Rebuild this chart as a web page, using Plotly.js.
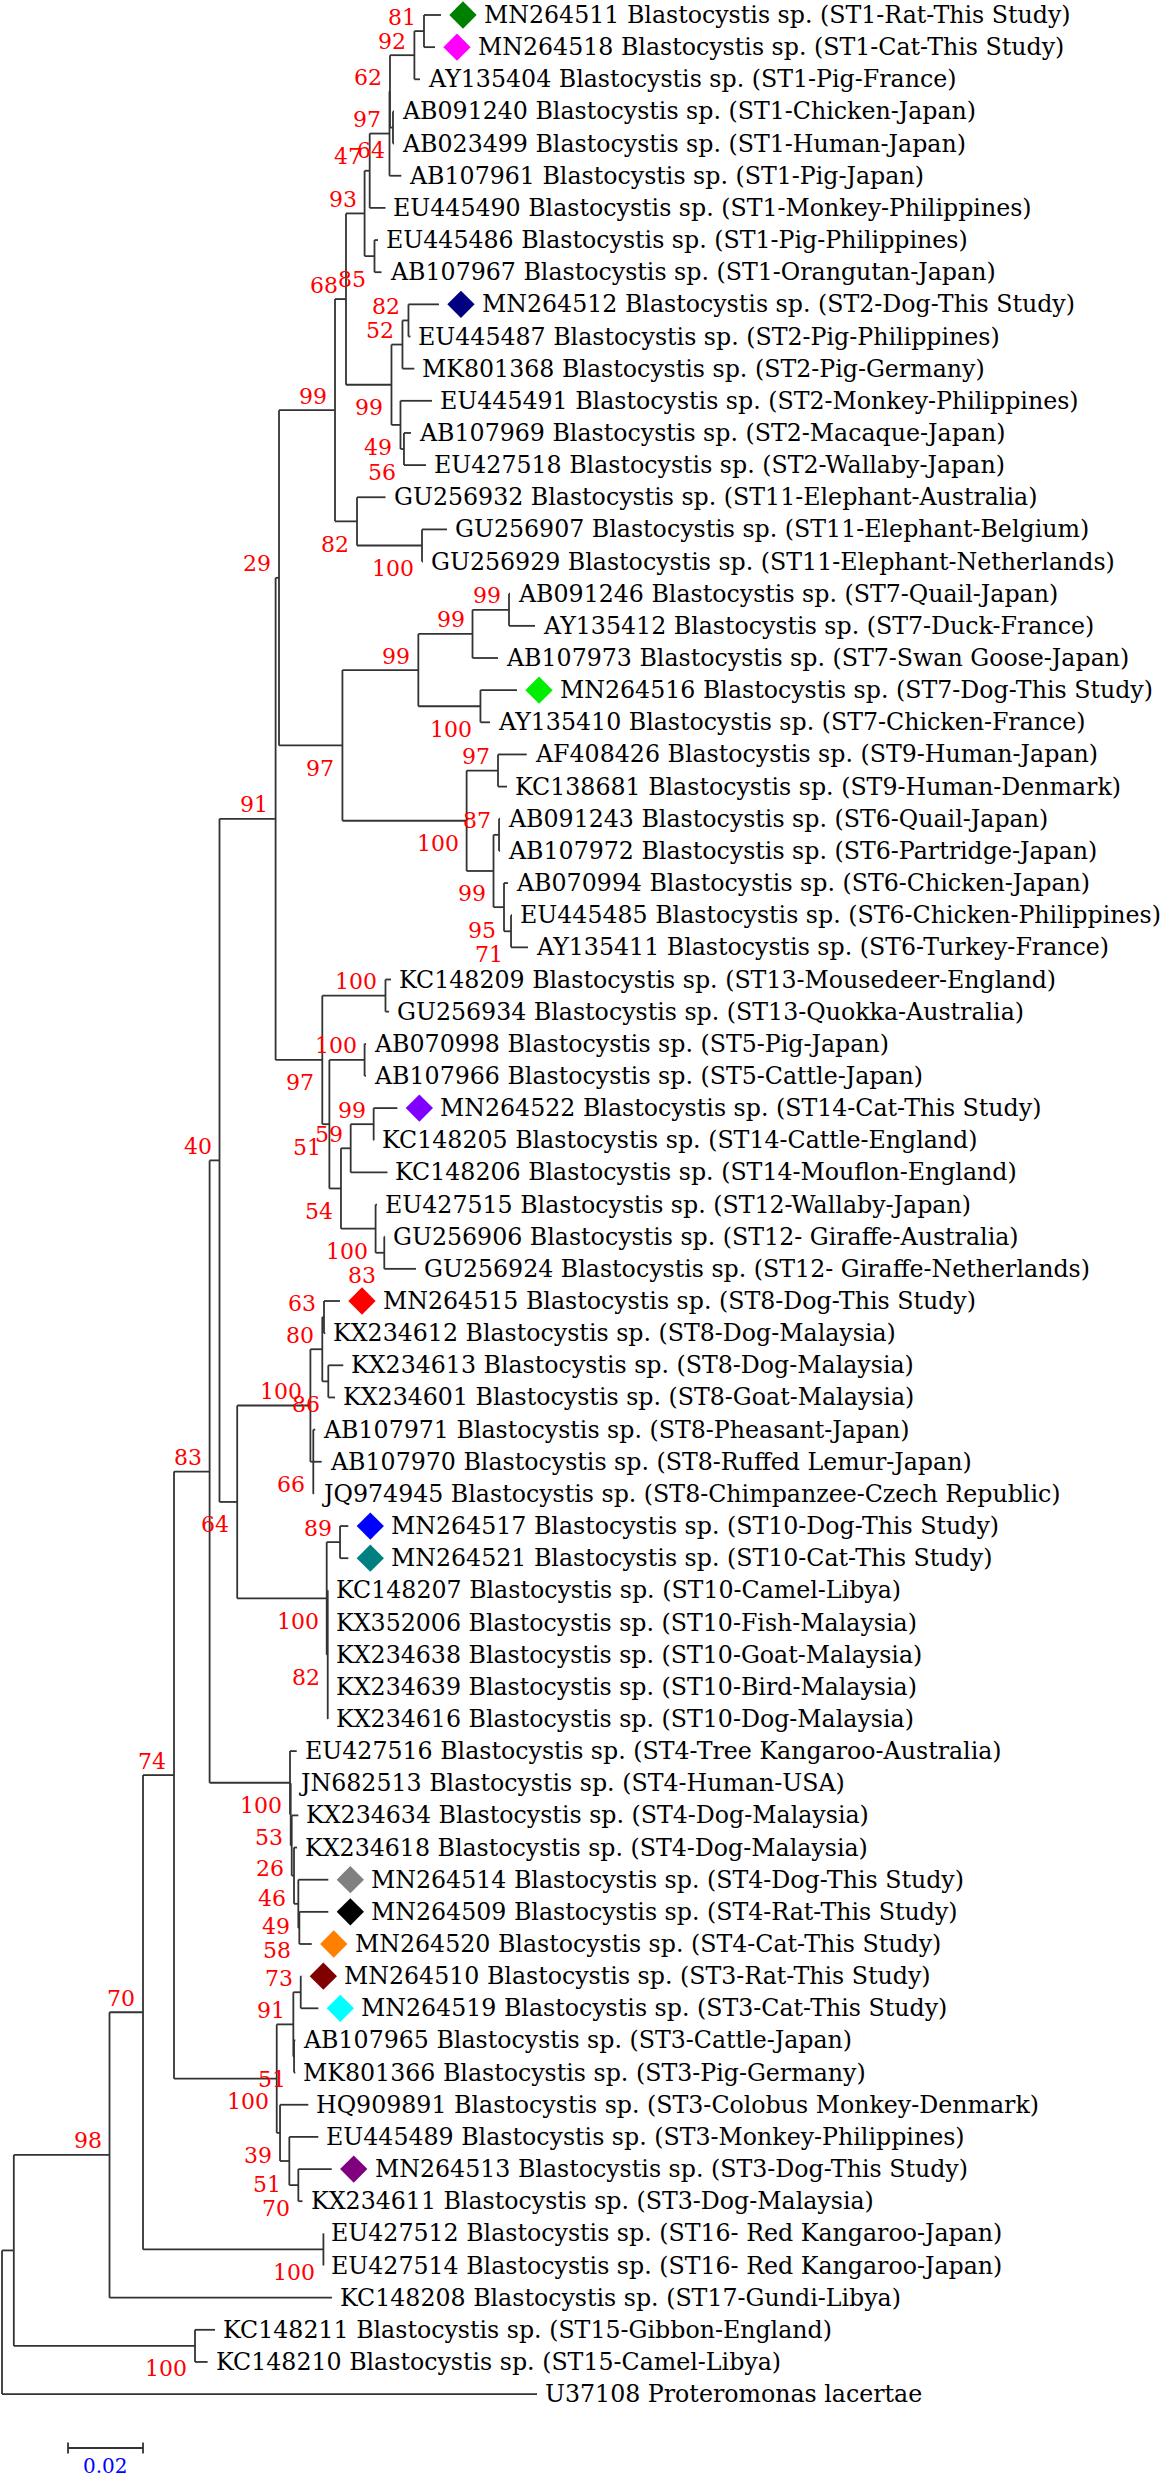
<!DOCTYPE html>
<html>
<head>
<meta charset="utf-8">
<script src="https://cdn.plot.ly/plotly-3.0.1.min.js"></script>
<style>
html,body{margin:0;padding:0;background:#ffffff;}
#chart{width:1165px;height:2480px;}
</style>
</head>
<body>
<div id="chart"></div>
<script>
// ---------------- DATA ----------------
// Tree topology, branch lengths (substitutions/site) and bootstrap support (Newick), per clade
const cladeST1 = "((((((MN264511:0.00453,MN264518:0.00293)81:0.00256,AY135404:0.00149)92:0.00651,(AB091240:0.00027,AB023499:0.00027)64:0.0008)62:0.00013,AB107961:0.00315)97:0.00528,EU445490:0.00421)47:0.00136,(EU445486:0.00093,AB107967:0.00187)85:0.00264)93";
const cladeST2 = "(((MN264512:0.00813,EU445487:0.00053)82:0.0016,MK801368:0.00317)52:0.00293,(EU445491:0.0084,(AB107969:0.00187,EU427518:0.00587)56:0.00093)49:0.0024)99";
const cladeST11 = "(GU256932:0.0076,(GU256907:0.00667,GU256929:0.00027)100:0.01733)82";
const cladeST7 = "(((AB091246:0.00027,AY135412:0.00693)99:0.00973,AB107973:0.0068)99:0.01445,(MN264516:0.00976,AY135410:0.00256)100:0.01656)99";
const cladeST9ST6 = "((AF408426:0.00765,KC138681:0.0024)97:0.00837,((AB091243:0.00027,AB107972:0.00027)87:0.00147,(AB070994:0.00107,(EU445485:0.00027,AY135411:0.00453)71:0.00187)95:0.0028)99:0.00717)100";
const cladeST13to12 = "((KC148209:0.00147,GU256934:0.00093)100:0.01685,((AB070998:0.00037,AB107966:0.00037)100:0.00939,(((MN264522:0.00632,KC148205:0.00008)99:0.00613,KC148206:0.00981)59:0.00259,(EU427515:0.00037,(GU256906:0.00019,GU256924:0.00845)83:0.00232)100:0.00923)54:0.00309)51:0.00189)97";
const cladeST8ST10 = "((((MN264515:0.00427,KX234612:0.00035)63:0.00045,(KX234613:0.004,KX234601:0.00179)86:0.0016)80:0.00317,(AB107971:0.00053,AB107970:0.00224,JQ974945:0.00011)66:0.00077)100:0.01952,((MN264517:0.00221,MN264521:0.00221)89:0.00355,(KC148207:0.00008,KX352006:0.00008,KX234638:0.00008,KX234639:0.00008,KX234616:0.00008)82:0.00027)100:0.02387)64";
const cladeST4 = "(EU427516:0.00179,(JN682513:0.00008,(KX234634:0.00176,(KX234618:0.0008,(MN264514:0.008,(MN264509:0.00773,MN264520:0.00331)58:0.00027)49:0.00115)46:0.00061)26:0.00027)53:0.00019)100";
const cladeST3 = "(((MN264510:0.00016,MN264519:0.00469)73:0.00197,(AB107965:0.00035,MK801366:0.00035)51:0.00019)91:0.00443,(HQ909891:0.00755,(EU445489:0.00773,(MN264513:0.00891,KX234611:0.00112)70:0.0024)51:0.00248)39:0.00088)100";
const cladeST16 = "(EU427512:0,EU427514:0)100";
const cladeST15 = "(KC148211:0.00533,KC148210:0.00336)100";

const nodeI = `((${cladeST1}:0.00496,${cladeST2}:0.01213)68:0.00293,${cladeST11}:0.00587)99`;
const nodeH = `(${nodeI}:0.01493,(${cladeST7}:0.02024,${cladeST9ST6}:0.03312)97:0.01691)29`;
const nodeG = `(${nodeH}:0.00091,${cladeST13to12}:0.01245)91`;
const nodeF = `(${nodeG}:0.01496,${cladeST8ST10}:0.00472)40`;
const nodeE = `(${nodeF}:0.00264,${cladeST4}:0.02144)83`;
const nodeD = `(${nodeE}:0.00949,${cladeST3}:0.02739)74`;
const nodeC = `(${nodeD}:0.00827,${cladeST16}:0.04811)70`;
const nodeB = `(${nodeC}:0.00893,KC148208:0.05933)98`;
const nodeA = `(${nodeB}:0.02552,${cladeST15}:0.04832)`;
const newick = `(${nodeA}:0.00315,U37108:0.14267);`;

// Tip labels
const accessions = ["MN264511","MN264518","AY135404","AB091240","AB023499","AB107961","EU445490","EU445486","AB107967",
 "MN264512","EU445487","MK801368","EU445491","AB107969","EU427518","GU256932","GU256907","GU256929",
 "AB091246","AY135412","AB107973","MN264516","AY135410","AF408426","KC138681","AB091243","AB107972","AB070994","EU445485","AY135411",
 "KC148209","GU256934","AB070998","AB107966","MN264522","KC148205","KC148206","EU427515","GU256906","GU256924",
 "MN264515","KX234612","KX234613","KX234601","AB107971","AB107970","JQ974945",
 "MN264517","MN264521","KC148207","KX352006","KX234638","KX234639","KX234616",
 "EU427516","JN682513","KX234634","KX234618","MN264514","MN264509","MN264520",
 "MN264510","MN264519","AB107965","MK801366","HQ909891","EU445489","MN264513","KX234611",
 "EU427512","EU427514","KC148208","KC148211","KC148210","U37108"];
const sources = ["ST1-Rat-This Study","ST1-Cat-This Study","ST1-Pig-France","ST1-Chicken-Japan","ST1-Human-Japan","ST1-Pig-Japan","ST1-Monkey-Philippines","ST1-Pig-Philippines","ST1-Orangutan-Japan",
 "ST2-Dog-This Study","ST2-Pig-Philippines","ST2-Pig-Germany","ST2-Monkey-Philippines","ST2-Macaque-Japan","ST2-Wallaby-Japan","ST11-Elephant-Australia","ST11-Elephant-Belgium","ST11-Elephant-Netherlands",
 "ST7-Quail-Japan","ST7-Duck-France","ST7-Swan Goose-Japan","ST7-Dog-This Study","ST7-Chicken-France","ST9-Human-Japan","ST9-Human-Denmark","ST6-Quail-Japan","ST6-Partridge-Japan","ST6-Chicken-Japan","ST6-Chicken-Philippines","ST6-Turkey-France",
 "ST13-Mousedeer-England","ST13-Quokka-Australia","ST5-Pig-Japan","ST5-Cattle-Japan","ST14-Cat-This Study","ST14-Cattle-England","ST14-Mouflon-England","ST12-Wallaby-Japan","ST12- Giraffe-Australia","ST12- Giraffe-Netherlands",
 "ST8-Dog-This Study","ST8-Dog-Malaysia","ST8-Dog-Malaysia","ST8-Goat-Malaysia","ST8-Pheasant-Japan","ST8-Ruffed Lemur-Japan","ST8-Chimpanzee-Czech Republic",
 "ST10-Dog-This Study","ST10-Cat-This Study","ST10-Camel-Libya","ST10-Fish-Malaysia","ST10-Goat-Malaysia","ST10-Bird-Malaysia","ST10-Dog-Malaysia",
 "ST4-Tree Kangaroo-Australia","ST4-Human-USA","ST4-Dog-Malaysia","ST4-Dog-Malaysia","ST4-Dog-This Study","ST4-Rat-This Study","ST4-Cat-This Study",
 "ST3-Rat-This Study","ST3-Cat-This Study","ST3-Cattle-Japan","ST3-Pig-Germany","ST3-Colobus Monkey-Denmark","ST3-Monkey-Philippines","ST3-Dog-This Study","ST3-Dog-Malaysia",
 "ST16- Red Kangaroo-Japan","ST16- Red Kangaroo-Japan","ST17-Gundi-Libya","ST15-Gibbon-England","ST15-Camel-Libya",""];
const ingroupName = "Blastocystis sp.";
const outgroupName = "Proteromonas lacertae";

// Isolates from this study and their marker colours
const studyIsolates = ["MN264511","MN264518","MN264512","MN264516","MN264522","MN264515","MN264517","MN264521","MN264514","MN264509","MN264520","MN264510","MN264519","MN264513"];
const studyColors   = ["#008000","#ff00ff","#000080","#00ee00","#7f00ff","#ff0000","#0000ff","#008080","#808080","#000000","#ff8000","#800000","#00ffff","#800080"];

const scaleBarLength = 0.02;
const scaleBarLabel = "0.02";

// ---------------- STYLE / GEOMETRY ----------------
const W = 1165, H = 2480;
const pxPerUnit = 3750;     // horizontal scale
const rootPx = 2;
const rowTop = 15, rowStep = 32.15;
const branchColor = "#333333", branchWidth = 1.8;
const labelFont = {family: "DejaVu Serif", size: 23.7, color: "#000000"};
const bootFont = {family: "DejaVu Serif", size: 22, color: "#ff0000"};

// ---------------- PARSE ----------------
function parseNewick(str) {
  const s = str.replace(/\s+/g, "");
  let i = 0;
  function node() {
    const n = {children: [], name: "", len: 0};
    if (s[i] === "(") {
      i++;
      n.children.push(node());
      while (s[i] === ",") { i++; n.children.push(node()); }
      i++; // ')'
    }
    let name = "";
    while (i < s.length && ",):;".indexOf(s[i]) < 0) name += s[i++];
    n.name = name;
    if (s[i] === ":") {
      i++;
      let num = "";
      while (i < s.length && ",);".indexOf(s[i]) < 0) num += s[i++];
      n.len = parseFloat(num);
    }
    return n;
  }
  return node();
}
const root = parseNewick(newick);
root.len = 0;

let row = 0;
const leaves = [], internals = [];
function layout(n, x0, idx) {
  n.x = x0 + n.len;
  n.first = idx === 0;
  if (!n.children.length) { n.y = row++; leaves.push(n); }
  else {
    n.children.forEach((c, k) => layout(c, n.x, k));
    n.y = (n.children[0].y + n.children[n.children.length - 1].y) / 2;
    internals.push(n);
  }
}
layout(root, 0, -1);

// ---------------- BUILD TRACES ----------------
const lx = [], ly = [];
internals.forEach(n => {
  const ys = n.children.map(c => c.y);
  lx.push(n.x, n.x, null); ly.push(Math.min(...ys), Math.max(...ys), null);
  n.children.forEach(c => { lx.push(n.x, c.x, null); ly.push(c.y, c.y, null); });
});

const mx = [], my = [], mc = [];
const annotations = [];
leaves.forEach(t => {
  const k = accessions.indexOf(t.name);
  const si = studyIsolates.indexOf(t.name);
  const text = sources[k] ? `${t.name} ${ingroupName} (${sources[k]})` : `${t.name} ${outgroupName}`;
  if (si >= 0) { mx.push(t.x + 22 / pxPerUnit); my.push(t.y); mc.push(studyColors[si]); }
  annotations.push({x: t.x, y: t.y, xref: "x", yref: "y", text: text, showarrow: false,
    xanchor: "left", yanchor: "middle", xshift: si >= 0 ? 42 : 7, borderpad: 0, font: labelFont});
});
internals.forEach(n => {
  if (n.name === "") return;
  annotations.push({x: n.x, y: n.y, xref: "x", yref: "y", text: n.name, showarrow: false,
    xanchor: "right", yanchor: "middle", xshift: -7, yshift: n.first ? 14 : -23, borderpad: 0, font: bootFont});
});

// scale bar
const sbX0 = (68 - rootPx) / pxPerUnit, sbX1 = sbX0 + scaleBarLength;
const sbY = (2448 - rowTop) / rowStep, tick = 5.5 / rowStep;
const shapes = [
  {type: "line", xref: "x", yref: "y", x0: sbX0, x1: sbX1, y0: sbY, y1: sbY, line: {color: branchColor, width: branchWidth}},
  {type: "line", xref: "x", yref: "y", x0: sbX0, x1: sbX0, y0: sbY - tick, y1: sbY + tick, line: {color: branchColor, width: branchWidth}},
  {type: "line", xref: "x", yref: "y", x0: sbX1, x1: sbX1, y0: sbY - tick, y1: sbY + tick, line: {color: branchColor, width: branchWidth}}
];
annotations.push({x: (sbX0 + sbX1) / 2, y: sbY, xref: "x", yref: "y", text: scaleBarLabel, showarrow: false,
  xanchor: "center", yanchor: "middle", yshift: -18, borderpad: 0,
  font: {family: "DejaVu Serif", size: 20, color: "#0000ff"}});

const traces = [
  {type: "scatter", mode: "lines", x: lx, y: ly, line: {color: branchColor, width: branchWidth}, hoverinfo: "skip", connectgaps: false},
  {type: "scatter", mode: "markers", x: mx, y: my, marker: {symbol: "diamond", size: 21, color: mc, line: {width: 0}}, hoverinfo: "skip"}
];

const layoutObj = {
  width: W, height: H,
  margin: {l: 0, r: 0, t: 0, b: 0, pad: 0},
  paper_bgcolor: "#ffffff", plot_bgcolor: "#ffffff",
  showlegend: false,
  xaxis: {range: [-rootPx / pxPerUnit, (W - rootPx) / pxPerUnit], visible: false, fixedrange: true},
  yaxis: {range: [(H - rowTop) / rowStep, -rowTop / rowStep], visible: false, fixedrange: true},
  annotations: annotations,
  shapes: shapes
};
Plotly.newPlot("chart", traces, layoutObj, {staticPlot: true, displayModeBar: false});
</script>
</body>
</html>
